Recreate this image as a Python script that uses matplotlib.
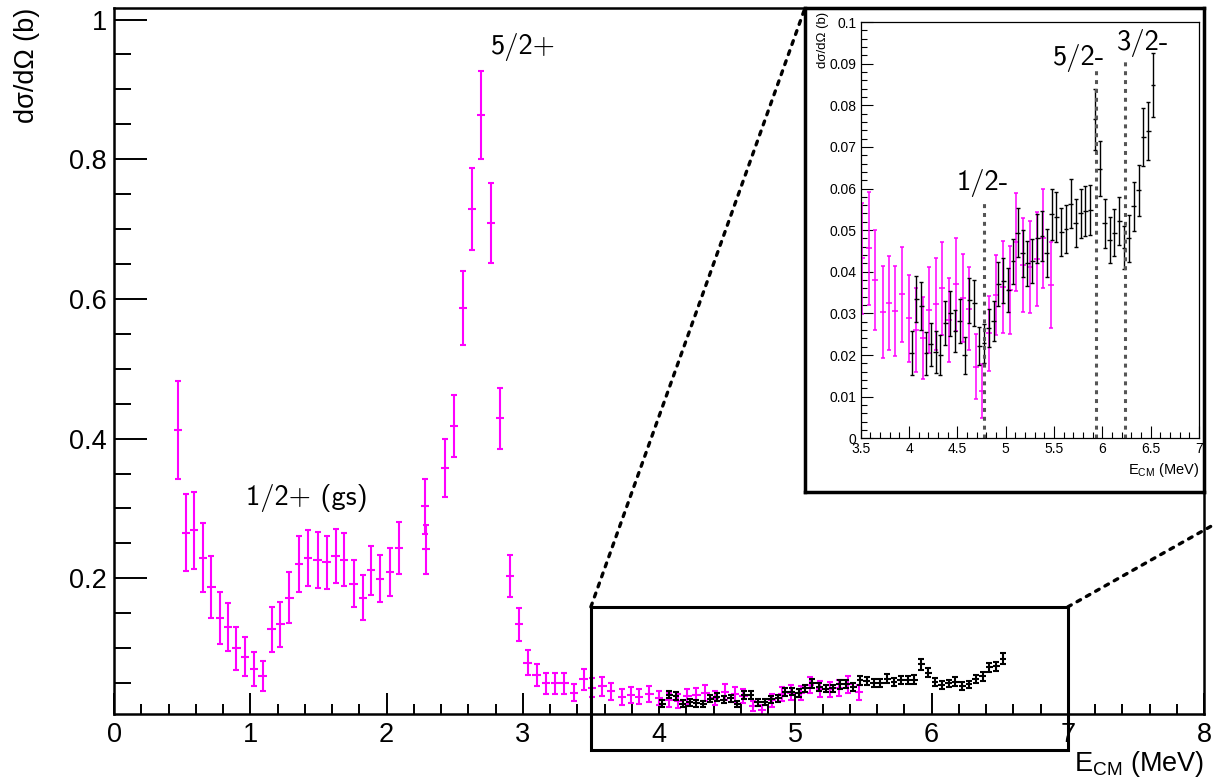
import matplotlib.pyplot as plt
from matplotlib.ticker import MultipleLocator, FuncFormatter
from matplotlib.patches import Rectangle, ConnectionPatch

plt.rcParams['font.family'] = ['Liberation Sans', 'DejaVu Sans']
plt.rcParams['mathtext.fontset'] = 'custom'
plt.rcParams['mathtext.rm'] = 'Liberation Sans'

# -------------------------------
# Data
# -------------------------------
# magenta data set: E_CM (MeV), dsigma/dOmega (b), error
mag_e = [0.468, 0.529, 0.590, 0.652, 0.715, 0.777, 0.838, 0.899, 0.961, 1.026,
         1.090, 1.156, 1.222, 1.288, 1.355, 1.421, 1.494, 1.560, 1.626, 1.690,
         1.758, 1.825, 1.888, 1.954, 2.028, 2.094, 2.280, 2.290, 2.432, 2.496,
         2.560, 2.625, 2.694, 2.765, 2.831, 2.907, 2.973, 3.035, 3.101, 3.172,
         3.240, 3.306, 3.378, 3.446, 3.509, 3.585, 3.650, 3.727, 3.792, 3.854,
         3.930, 3.999, 4.071, 4.141, 4.209, 4.275, 4.341, 4.413, 4.486, 4.555,
         4.620, 4.693, 4.758, 4.831, 4.900, 4.969, 5.045, 5.107, 5.182, 5.252,
         5.321, 5.389, 5.469]
mag_y = [0.412, 0.2655, 0.2688, 0.2297, 0.1875, 0.1431, 0.1302, 0.0996, 0.0877, 0.0705,
         0.0600, 0.1269, 0.1340, 0.1723, 0.2210, 0.2287, 0.2258, 0.2230, 0.2320, 0.2263,
         0.1924, 0.1723, 0.2115, 0.1996, 0.2090, 0.2435, 0.3030, 0.2416, 0.3577, 0.4180,
         0.5866, 0.7290, 0.8640, 0.7085, 0.4290, 0.2038, 0.1340, 0.0790, 0.0614, 0.0495,
         0.0495, 0.0495, 0.0360, 0.0552, 0.0432, 0.0456, 0.0381, 0.0303, 0.0325, 0.0305,
         0.0346, 0.0288, 0.0260, 0.0241, 0.0308, 0.0322, 0.0360, 0.0284, 0.0370, 0.0337,
         0.0311, 0.0172, 0.0114, 0.0252, 0.0344, 0.0364, 0.0356, 0.0472, 0.0416, 0.0412,
         0.0430, 0.0480, 0.0368]
mag_err = [0.070, 0.055, 0.055, 0.049, 0.044, 0.037, 0.035, 0.031, 0.028, 0.024,
           0.022, 0.032, 0.032, 0.036, 0.040, 0.040, 0.040, 0.038, 0.039, 0.038,
           0.034, 0.032, 0.035, 0.034, 0.034, 0.037, 0.039, 0.035, 0.042, 0.045,
           0.053, 0.059, 0.063, 0.057, 0.044, 0.030, 0.024, 0.018, 0.016, 0.015,
           0.015, 0.015, 0.012, 0.015, 0.0134, 0.0135, 0.012, 0.011, 0.0112, 0.0108,
           0.0114, 0.0104, 0.0100, 0.0098, 0.0104, 0.0110, 0.0112, 0.0100, 0.0112, 0.0106,
           0.0100, 0.0078, 0.0065, 0.0090, 0.0096, 0.0110, 0.0105, 0.0118, 0.0112, 0.0110,
           0.0113, 0.0118, 0.0104]
mag_dx = 0.03

# black data set
blk_e = [4.025, 4.075, 4.125, 4.175, 4.225, 4.275, 4.325, 4.375, 4.425, 4.475,
         4.525, 4.575, 4.625, 4.675, 4.725, 4.775, 4.825, 4.875, 4.925, 4.975,
         5.025, 5.075, 5.125, 5.175, 5.225, 5.275, 5.325, 5.375, 5.425, 5.475,
         5.525, 5.575, 5.625, 5.675, 5.725, 5.775, 5.825, 5.875, 5.925, 5.975,
         6.025, 6.075, 6.125, 6.175, 6.225, 6.275, 6.325, 6.375, 6.425, 6.475,
         6.525]
blk_y = [0.0205, 0.0334, 0.0317, 0.0204, 0.0226, 0.0208, 0.0200, 0.0277, 0.0300, 0.0258,
         0.0282, 0.0199, 0.0332, 0.0325, 0.0222, 0.0228, 0.0265, 0.0282, 0.0370, 0.0378,
         0.0356, 0.0425, 0.0494, 0.0444, 0.0420, 0.0426, 0.0480, 0.0485, 0.0445, 0.0538,
         0.0532, 0.0496, 0.0502, 0.0564, 0.0518, 0.0540, 0.0546, 0.0549, 0.0766, 0.0648,
         0.0516, 0.0476, 0.0494, 0.0522, 0.0458, 0.0480, 0.0557, 0.0596, 0.0724, 0.0738,
         0.0848]
blk_err = [0.0052, 0.0055, 0.0058, 0.0051, 0.0052, 0.0050, 0.0047, 0.0053, 0.0054, 0.0050,
           0.0053, 0.0045, 0.0054, 0.0055, 0.0046, 0.0047, 0.0045, 0.0049, 0.0053, 0.0054,
           0.0053, 0.0054, 0.0059, 0.0056, 0.0055, 0.0052, 0.0058, 0.0060, 0.0057, 0.0062,
           0.0060, 0.0058, 0.0058, 0.0060, 0.0058, 0.0060, 0.0060, 0.0060, 0.0074, 0.0067,
           0.0058, 0.0055, 0.0056, 0.0058, 0.0052, 0.0056, 0.0059, 0.0061, 0.0070, 0.0070,
           0.0077]
blk_dx = 0.025

# states in the inset
lvl_e = [4.775, 5.93, 6.238]
lvl_top = [0.0572, 0.0884, 0.0917]
lvl_names = ['1/2-', '5/2-', '3/2-']
lvl_text_xy = [(4.493, 0.0596), (5.487, 0.0896), (6.149, 0.0932)]


def draw_points(a, x, y, ey, ex, color, lw, cap):
    a.errorbar(x, y, yerr=ey, fmt='none', ecolor=color, elinewidth=lw,
               capsize=cap, capthick=lw)
    a.errorbar(x, y, xerr=ex, fmt='none', ecolor=color, elinewidth=lw, capsize=0)


fmt_g = FuncFormatter(lambda v, p: '%g' % round(v, 6))
W, H = 1215, 783


def frame(l, t, r, b):
    return [l / W, 1 - b / H, (r - l) / W, (b - t) / H]


fig = plt.figure(figsize=(12.15, 7.83), dpi=100)

# -------------------------------
# Main plot
# -------------------------------
ax = fig.add_axes(frame(114, 8, 1204, 714))
draw_points(ax, mag_e, mag_y, mag_err, mag_dx, '#ff00ff', 1.5, 2.4)
draw_points(ax, blk_e, blk_y, blk_err, blk_dx, 'black', 1.5, 2.0)
ax.set_xlim(0, 8)
ax.set_ylim(0.0057, 1.0165)
ax.xaxis.set_major_locator(MultipleLocator(1))
ax.xaxis.set_minor_locator(MultipleLocator(0.2))
ax.yaxis.set_major_locator(MultipleLocator(0.2))
ax.yaxis.set_minor_locator(MultipleLocator(0.05))
ax.xaxis.set_major_formatter(fmt_g)
ax.yaxis.set_major_formatter(fmt_g)
ax.tick_params(axis='x', which='major', direction='in', length=15, width=1.4, labelsize=19.5, pad=6)
ax.tick_params(axis='x', which='minor', direction='in', length=7.5, width=1.4)
ax.tick_params(axis='y', which='major', direction='in', length=24, width=1.4, labelsize=19.5, pad=5)
ax.tick_params(axis='y', which='minor', direction='in', length=12, width=1.4)
for s in ax.spines.values():
    s.set_linewidth(1.8)
ax.set_ylabel('dσ/dΩ (b)', loc='top', fontsize=19.5)
ax.yaxis.set_label_coords(-0.068, 1.0)
ax.set_xlabel(r'E$_{\mathrm{CM}}$ (MeV)', loc='right', fontsize=19.5)
ax.xaxis.set_label_coords(1.0, -0.05)

ax.text(2.77, 0.951, '5/2+', fontsize=20.5, family='cmss10', va='baseline')
ax.text(0.968, 0.305, '1/2+ (gs)', fontsize=20.5, family='cmss10', va='baseline')

# zoom box
ax.add_patch(Rectangle((3.5, -0.046), 3.5, 0.205, fill=False, lw=2.2,
                       edgecolor='black', clip_on=False, zorder=5))

# -------------------------------
# Inset
# -------------------------------
box = fig.add_axes(frame(805, 8, 1204, 492))
box.set_xticks([])
box.set_yticks([])
for s in box.spines.values():
    s.set_linewidth(2.5)

ins = fig.add_axes(frame(860.8, 22, 1198.9, 438.3))
draw_points(ins, mag_e, mag_y, mag_err, mag_dx, '#ff00ff', 1.1, 1.6)
draw_points(ins, blk_e, blk_y, blk_err, blk_dx, 'black', 1.0, 1.5)
for e, top in zip(lvl_e, lvl_top):
    ins.plot([e, e], [0, top], color='#555555', lw=2.2, ls=(0, (1.3, 1.6)))
for name, (tx, ty) in zip(lvl_names, lvl_text_xy):
    ins.text(tx, ty, name, fontsize=20.5, family='cmss10', va='baseline')
ins.set_xlim(3.5, 7)
ins.set_ylim(0, 0.1)
ins.xaxis.set_major_locator(MultipleLocator(0.5))
ins.xaxis.set_minor_locator(MultipleLocator(0.1))
ins.yaxis.set_major_locator(MultipleLocator(0.01))
ins.yaxis.set_minor_locator(MultipleLocator(0.002))
ins.xaxis.set_major_formatter(fmt_g)
ins.yaxis.set_major_formatter(fmt_g)
ins.tick_params(which='major', direction='in', length=8.5, width=0.8, labelsize=10, pad=3)
ins.tick_params(which='minor', direction='in', length=4.2, width=0.8)
for s in ins.spines.values():
    s.set_linewidth(0.9)
ins.set_xlabel(r'E$_{\mathrm{CM}}$ (MeV)', loc='right', fontsize=10.5)
ins.xaxis.set_label_coords(1.0, -0.055)
ins.set_ylabel('dσ/dΩ (b)', loc='top', fontsize=9.5)
ins.yaxis.set_label_coords(-0.094, 1.024)

# dotted connectors between zoom box and inset
con1 = ConnectionPatch(xyA=(3.5, 0.159), coordsA=ax.transData, xyB=(0, 1), coordsB=box.transAxes,
                       color='black', lw=2.4, ls=(0, (1.2, 2.0)))
con2 = ConnectionPatch(xyA=(7.0, 0.159), coordsA=ax.transData, xyB=(1.0, 1 - 524 / H),
                       coordsB=fig.transFigure, color='black', lw=2.4, ls=(0, (1.2, 2.0)))
fig.add_artist(con1)
fig.add_artist(con2)

fig.savefig('out.png', dpi=100)
